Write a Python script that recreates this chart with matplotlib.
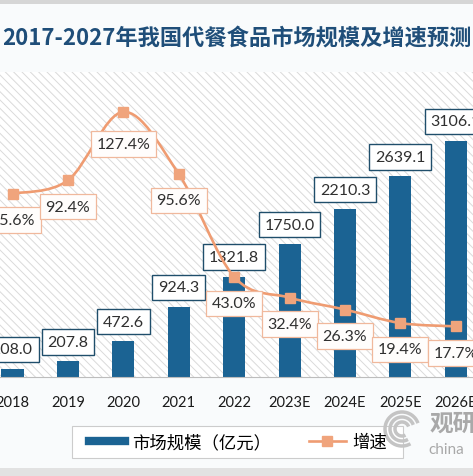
import matplotlib
matplotlib.use("Agg")
import matplotlib.pyplot as plt
from matplotlib.lines import Line2D
from matplotlib.path import Path
from matplotlib.patches import PathPatch, Rectangle, Arc

# ── Data ──────────────────────────────────────────────────────────────────────
years = ["2018", "2019", "2020", "2021", "2022", "2023E", "2024E", "2025E", "2026E"]
market_size = [108.0, 207.8, 472.6, 924.3, 1321.8, 1750.0, 2210.3, 2639.1, 3106.1]
growth = [85.6, 92.4, 127.4, 95.6, 43.0, 32.4, 26.3, 19.4, 17.7]

# ── Palette ───────────────────────────────────────────────────────────────────
C_BAR = "#1b6393"
C_LINE = "#ef9c72"
C_MARK = "#f0a47c"
C_TITLE = "#1f4e79"
C_TEXT = "#303030"
C_BG = "#f9fbfc"

plt.rcParams["font.family"] = ["Lato", "Noto Sans CJK SC", "DejaVu Sans"]
plt.rcParams["hatch.linewidth"] = 0.7

W, H = 473, 477
fig = plt.figure(figsize=(W / 100, H / 100), dpi=100)
fig.patch.set_facecolor(C_BG)

# grey bands of the screenshot frame
fig.patches.append(Rectangle((0, 1 - 5 / H), 1, 5 / H, transform=fig.transFigure,
                             fc="#d6d6d6", ec="none", zorder=0))
fig.patches.append(Rectangle((0, 0), 1, 8 / H, transform=fig.transFigure,
                             fc="#e2e2e2", ec="none", zorder=0))

ax = fig.add_axes([0, 99 / H, 1, 305 / H])
ax.patch.set_facecolor("white")
ax.patch.set_hatch("\\\\\\\\")
ax.patch.set_edgecolor("#dadada")
ax.patch.set_linewidth(0)

x = list(range(len(years)))
ax.bar(x, market_size, width=0.4, color=C_BAR, zorder=2)
ax.set_xlim(-0.227, 8.31)
ax.set_ylim(0, 4013)
ax.set_xticks(x, years)
ax.tick_params(axis="x", length=0, pad=13, labelsize=10.5, labelcolor="#1a1a1a")
ax.set_yticks([])
for s in ["top", "left", "right"]:
    ax.spines[s].set_visible(False)
ax.spines["bottom"].set_color("#bdbdbd")

for xi, v in zip(x, market_size):
    ax.annotate(f"{v:.1f}", (xi, v), xytext=(0, 14), textcoords="offset points",
                ha="center", va="center", fontsize=11.5, color=C_TEXT, zorder=5,
                bbox=dict(boxstyle="square,pad=0.36", fc="white", ec="#1f4e6b", lw=1.0))

# ── Growth line (smoothed, Excel style) ───────────────────────────────────────
ax2 = ax.twinx()
ax2.set_ylim(-8.2, 147.8)
ax2.set_yticks([])
for s in ax2.spines.values():
    s.set_visible(False)

pts = list(zip(x, growth))
verts = [pts[0]]
codes = [Path.MOVETO]
for i in range(len(pts) - 1):
    p0 = pts[i - 1] if i > 0 else pts[i]
    p1, p2 = pts[i], pts[i + 1]
    p3 = pts[i + 2] if i + 2 < len(pts) else pts[i + 1]
    c1 = (p1[0] + (p2[0] - p0[0]) / 6, p1[1] + (p2[1] - p0[1]) / 6)
    c2 = (p2[0] - (p3[0] - p1[0]) / 6, p2[1] - (p3[1] - p1[1]) / 6)
    verts += [c1, c2, p2]
    codes += [Path.CURVE4] * 3
ax2.add_patch(PathPatch(Path(verts, codes), fc="none", ec=C_LINE, lw=1.9, zorder=3))
ax2.plot(x, growth, ls="none", marker="s", ms=7, color=C_MARK, zorder=4)

for xi, g in zip(x, growth):
    dy = -23 if g == max(growth) else -19   # peak label sits a bit lower
    ax2.annotate(f"{g:.1f}%", (xi, g), xytext=(0, dy), textcoords="offset points",
                 ha="center", va="center", fontsize=11.5, color=C_TEXT, zorder=6,
                 bbox=dict(boxstyle="square,pad=0.36", fc="#fffdfc", ec="#f0b89c", lw=0.9))

# ── Title ─────────────────────────────────────────────────────────────────────
fig.text(0.5, 1 - 38 / H, "2017-2027年我国代餐食品市场规模及增速预测",
         ha="center", va="center", fontsize=16, fontweight="bold", color=C_TITLE,
         family=["Noto Sans CJK SC", "DejaVu Sans"])

# ── Legend ────────────────────────────────────────────────────────────────────
fig.patches.append(Rectangle((72 / W, 1 - 459 / H), 331 / W, 32 / H,
                             transform=fig.transFigure, fc="white", ec="#cccccc",
                             lw=0.8, zorder=1))
handles = [
    Line2D([], [], color=C_BAR, lw=6, label="市场规模（亿元）"),
    Line2D([], [], color=C_LINE, lw=1.9, marker="s", ms=7, mfc=C_MARK, mec=C_MARK,
           label="增速"),
]
leg = fig.legend(handles=handles, loc="center", bbox_to_anchor=(238 / W, 1 - 443 / H),
                 ncol=2, frameon=False, handlelength=2.1, columnspacing=2.2,
                 handletextpad=0.4, prop={"family": ["Noto Sans CJK SC"], "size": 12.5})

# ── Watermark ─────────────────────────────────────────────────────────────────
for r in [34, 24, 14]:
    fig.patches.append(Arc((402 / W, 1 - 430 / H), r / W, r / H, theta1=20, theta2=300,
                           transform=fig.transFigure, color="#c4c4c4", lw=2.5))
fig.text(430 / W, 1 - 424 / H, "观研", ha="left", va="center", fontsize=17,
         fontweight="bold", color="#a9a9a9", family=["Noto Sans CJK SC"])
fig.text(428 / W, 1 - 450 / H, "china", ha="left", va="center", fontsize=11,
         color="#a9a9a9")

fig.savefig("out.png", dpi=100, facecolor=fig.get_facecolor())
